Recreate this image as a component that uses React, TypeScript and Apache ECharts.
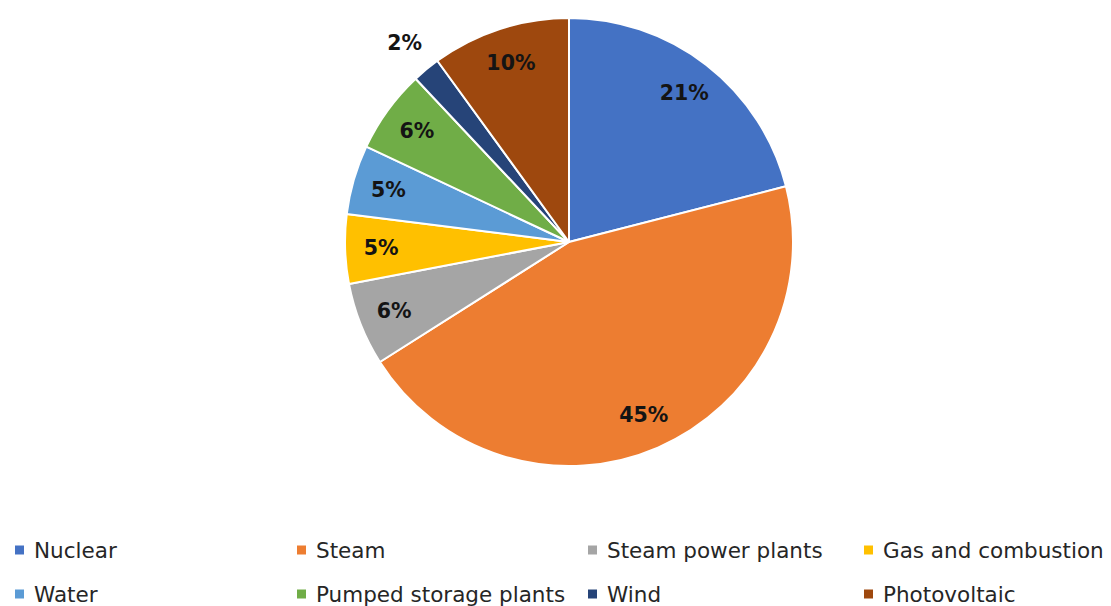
import React, { useEffect, useRef } from "react";
import * as echarts from "echarts";

const categories = [
  "Nuclear",
  "Steam",
  "Steam power plants",
  "Gas and combustion",
  "Water",
  "Pumped storage plants",
  "Wind",
  "Photovoltaic",
];
const shares = [21, 45, 6, 5, 5, 6, 2, 10];
const colors = ["#4472C4", "#ED7D31", "#A5A5A5", "#FFC000", "#5B9BD5", "#70AD47", "#264478", "#9E480E"];
const outsideLabelCategories = ["Wind"];

const legendLeft = [13, 295, 586, 862, 13, 295, 586, 862];
const legendRowCenter = [550, 550, 550, 550, 594, 594, 594, 594];

const FONT = "'DejaVu Sans', sans-serif";

export default function App() {
  const ref = useRef<HTMLDivElement>(null);
  useEffect(() => {
    if (!ref.current) return;
    const chart = echarts.init(ref.current, undefined, { renderer: "svg" });
    const center = [569, 242];
    const R = 224;
    const labelStyle = {
      fontFamily: FONT,
      fontWeight: "bold" as const,
      fontSize: 20.5,
      color: "#141414",
      formatter: "{c}%",
    };
    const legends = categories.map((name, i) => ({
      data: [{ name, itemStyle: { color: colors[i] } }],
      left: legendLeft[i],
      top: legendRowCenter[i] - 11,
      orient: "horizontal",
      padding: 0,
      icon: "rect",
      itemWidth: 11,
      itemHeight: 11,
      selectedMode: false,
      textStyle: {
        fontFamily: FONT,
        fontSize: 21.5,
        color: "#262626",
        padding: [0, 0, 0, 4],
      },
    }));
    chart.setOption({
      animation: false,
      backgroundColor: "#ffffff",
      legend: legends,
      series: [
        {
          type: "pie",
          center,
          radius: R,
          startAngle: 90,
          clockwise: true,
          silent: true,
          label: { show: false },
          labelLine: { show: false },
          itemStyle: { borderColor: "#ffffff", borderWidth: 2 },
          data: categories.map((name, i) => ({
            name,
            value: shares[i],
            itemStyle: { color: colors[i] },
          })),
        },
        {
          type: "pie",
          center,
          radius: [146, R],
          startAngle: 90,
          clockwise: true,
          silent: true,
          itemStyle: { color: "rgba(0,0,0,0)", borderWidth: 0 },
          labelLine: { show: false },
          data: categories.map((name, i) => ({
            name,
            value: shares[i],
            label: {
              show: !outsideLabelCategories.includes(name),
              position: "inside",
              ...labelStyle,
            },
          })),
        },
        {
          type: "pie",
          center,
          radius: [R, 286],
          startAngle: 90,
          clockwise: true,
          silent: true,
          itemStyle: { color: "rgba(0,0,0,0)", borderWidth: 0 },
          labelLine: { show: false },
          data: categories.map((name, i) => ({
            name,
            value: shares[i],
            label: {
              show: outsideLabelCategories.includes(name),
              position: "inside",
              ...labelStyle,
            },
          })),
        },
      ],
    });
    return () => chart.dispose();
  }, []);
  return <div ref={ref} style={{ width: 1111, height: 606, position: "absolute", left: 0, top: 0 }} />;
}
